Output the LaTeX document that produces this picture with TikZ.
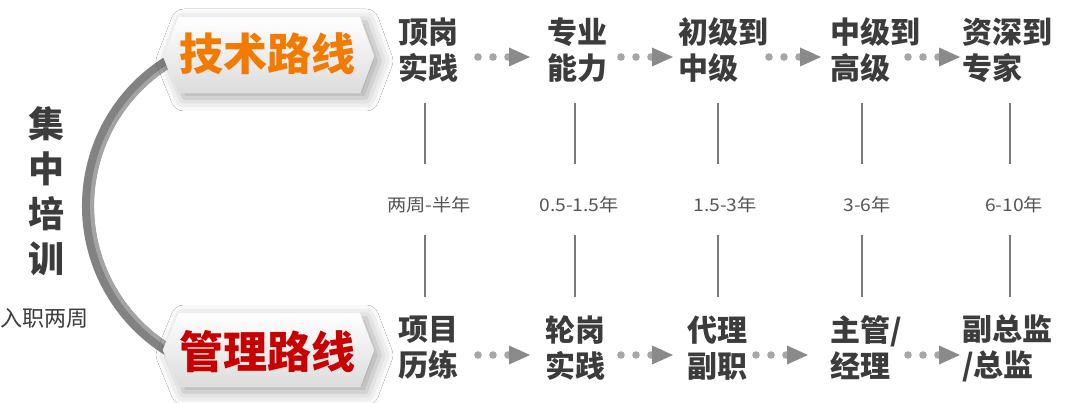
\documentclass[tikz,border=0pt]{standalone}
\usepackage{fontspec}
\setmainfont{Noto Sans CJK SC}
\newfontfamily\yearfont[FakeStretch=1.1]{Noto Sans CJK SC}
\usetikzlibrary{shadows.blur}
\definecolor{txtgray}{HTML}{3C3C3C}
\definecolor{yeargray}{HTML}{555555}
\definecolor{tickgray}{HTML}{7A7A7A}
\definecolor{dotgray}{HTML}{A6A6A6}
\definecolor{headgray}{HTML}{8A8A8A}
\definecolor{techorange}{HTML}{F27A00}
\definecolor{mgmtred}{HTML}{C80000}
\definecolor{arcdark}{HTML}{828282}
\definecolor{arclight}{HTML}{A4A4A4}
\definecolor{bannerlow}{HTML}{DCDCDC}
\tikzset{
  stepnode/.style={anchor=west, align=left, inner sep=0pt,
    font=\bfseries\fontsize{30}{36}\selectfont, text=txtgray},
  yearlbl/.style={inner sep=0pt, font=\yearfont\fontsize{17.5}{17.5}\selectfont, text=yeargray},
  tick/.style={draw=tickgray, line width=1.3pt},
  banner/.style={top color=white, bottom color=bannerlow, draw=bannerlow!60!white, line width=0.5pt,
    blur shadow={shadow xshift=6pt, shadow yshift=-5pt, shadow blur radius=13pt, shadow opacity=35}},
  pics/dotarrow/.style={code={
    \fill[dotgray] (0,0) circle[radius=3.8] (15,0) circle[radius=3.8] (30,0) circle[radius=3.8];
    \fill[headgray] (31,-9.5) -- (52,0) -- (31,9.5) -- cycle;
  }}
}
\begin{document}
\begin{tikzpicture}[x=1pt,y=-1pt]
\useasboundingbox (0,0) rectangle (1080,403);
\fill[white] (0,0) rectangle (1080,403);

% arc
\coordinate (arcc) at (257.6,205.9);
\draw[arcdark, line width=12pt] (arcc) ++(240:169.6) arc[start angle=240, end angle=120, radius=169.6];
\draw[arclight, line width=4pt] (arcc) ++(240:165.5) arc[start angle=240, end angle=120, radius=165.5];

% banners
\path[banner] (163,56) -- (178,17) -- (360,17) -- (374,56) -- (360,93) -- (178,93) -- cycle;
\path[banner] (163,350) -- (178,313) -- (360,313) -- (374,350) -- (360,387) -- (178,387) -- cycle;
\node[inner sep=0pt, font=\bfseries\fontsize{44}{44}\selectfont, text=techorange] (tech) at (267.5,54) {技术路线};
\node[inner sep=0pt, font=\bfseries\fontsize{44}{44}\selectfont, text=mgmtred] (mgmt) at (267.5,352) {管理路线};

% left texts
\node[inner sep=0pt, align=center, font=\bfseries\fontsize{36}{45}\selectfont, text=txtgray] (jzpx) at (46,191) {集\\中\\培\\训};
\node[inner sep=0pt, font=\fontsize{22}{22}\selectfont, text=txtgray] (rzlz) at (45,318) {入职两周};

% top steps
\node[stepnode] (t1) at (398,50) {顶岗\\实践};
\node[stepnode] (t2) at (547,50) {专业\\能力};
\node[stepnode] (t3) at (678,50) {初级到\\中级};
\node[stepnode] (t4) at (830,50) {中级到\\高级};
\node[stepnode] (t5) at (962,50) {资深到\\专家};

% bottom steps
\node[stepnode] (b1) at (398,348) {项目\\历练};
\node[stepnode] (b2) at (545,348) {轮岗\\实践};
\node[stepnode] (b3) at (687,348) {代理\\副职};
\node[stepnode] (b4) at (830,348) {主管/\\经理};
\node[stepnode] (b5) at (962,348) {副总监\\/总监};

% dotted arrows
\coordinate (ta1) at (478,57);
\coordinate (ta2) at (621,57);
\coordinate (ta3) at (769,57);
\coordinate (ta4) at (908,57);
\coordinate (ba1) at (478,355);
\coordinate (ba2) at (621,355);
\coordinate (ba3) at (756,355);
\coordinate (ba4) at (908,355);
\foreach \a in {ta1,ta2,ta3,ta4,ba1,ba2,ba3,ba4} { \pic at (\a) {dotarrow}; }

% year labels
\node[yearlbl] (y1) at (429,205) {两周-半年};
\node[yearlbl] (y2) at (579,205) {0.5-1.5年};
\node[yearlbl] (y3) at (725,205) {1.5-3年};
\node[yearlbl] (y4) at (867,205) {3-6年};
\node[yearlbl] (y5) at (1014,205) {6-10年};

% ticks
\foreach \x in {425,575,718,862,1010} {
  \draw[tick] (\x,103) -- (\x,164);
  \draw[tick] (\x,235) -- (\x,297);
}
\end{tikzpicture}
\end{document}
